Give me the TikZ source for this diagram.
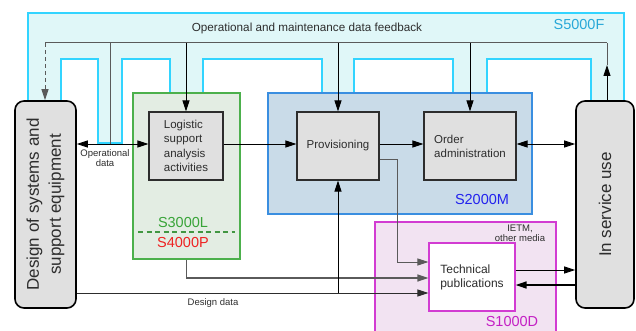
\documentclass[tikz,border=0pt]{standalone}
\usepackage{fontspec}
\setmainfont{Liberation Sans}
\usetikzlibrary{arrows.meta,calc}

\definecolor{cyanfill}{RGB}{224,247,248}
\definecolor{cyanline}{RGB}{50,212,255}
\definecolor{cyantext}{RGB}{40,168,216}
\definecolor{boxgray}{RGB}{224,224,224}
\definecolor{greenfill}{RGB}{227,237,227}
\definecolor{greenline}{RGB}{76,176,76}
\definecolor{greentext}{RGB}{56,164,56}
\definecolor{redtext}{RGB}{238,34,34}
\definecolor{bluefill}{RGB}{201,219,232}
\definecolor{blueline}{RGB}{58,142,224}
\definecolor{bluetext}{RGB}{34,34,238}
\definecolor{magfill}{RGB}{242,227,242}
\definecolor{magline}{RGB}{210,60,210}
\definecolor{magtext}{RGB}{196,32,196}
\definecolor{linegray}{RGB}{90,90,90}
\definecolor{txtgray}{RGB}{45,45,45}

\tikzset{
  tip/.tip={Triangle[length=11pt,width=7pt]},
  cyanframe/.style={fill=cyanfill, draw=cyanline, line width=1.2pt},
  endbox/.style={draw=black, fill=boxgray, line width=1.6pt, rounded corners=9pt,
    minimum width=#1, minimum height=207pt, inner sep=0pt},
  bigtext/.style={font=\fontsize{17}{22}\selectfont, text=txtgray, align=center, rotate=90},
  area/.style={line width=1.3pt, inner sep=0pt},
  actbox/.style={draw=txtgray, fill=boxgray, line width=1.2pt, inner sep=0pt,
    minimum height=68pt, font=\fontsize{11.5}{14.5}\selectfont, text=txtgray, align=left},
  stdlabel/.style={font=\fontsize{14.5}{16}\selectfont},
  small/.style={font=\fontsize{9.5}{10}\selectfont, text=txtgray, align=center},
  fbl/.style={draw=linegray, line width=1pt},
  arr/.style={draw=black, line width=0.9pt, -tip},
  dblarr/.style={draw=black, line width=0.9pt, tip-tip},
}

\begin{document}
\begin{tikzpicture}[x=1pt,y=-1pt]
\useasboundingbox (0,0) rectangle (636,331);

% feedback band with its downward strips
\draw[cyanframe] (28,101) -- (28,13) -- (624,13) -- (624,101) -- (591,101)
  -- (591,59) -- (487,59) -- (487,93) -- (453,93) -- (453,59) -- (354,59)
  -- (354,93) -- (322,93) -- (322,59) -- (203,59) -- (203,93) -- (170,93)
  -- (170,59) -- (122,59) -- (122,143) -- (98,143) -- (98,59) -- (61,59)
  -- (61,101) -- cycle;
\node[font=\fontsize{11.7}{14}\selectfont, text=txtgray] (fbtitle) at (307,28)
  {Operational and maintenance data feedback};
\node[stdlabel, text=cyantext] (s5000f) at (579,25) {S5000F};

% specification areas
\node[area, draw=greenline, fill=greenfill, minimum width=107pt, minimum height=166pt]
  (green) at (186.5,176) {};
\node[area, draw=blueline, fill=bluefill, minimum width=264pt, minimum height=121pt]
  (blue) at (400,153.5) {};
\node[area, draw=magline, fill=magfill, minimum width=181pt, minimum height=124pt]
  (mag) at (465.5,284) {};

\node[stdlabel, text=greentext] (s3000l) at (183,223) {S3000L};
\draw[draw=greenline!85!black, line width=2pt, dash pattern=on 5pt off 3.5pt]
  (138,232) coordinate (dl) -- (235,232) coordinate (dr);
\node[stdlabel, text=redtext] (s4000p) at (183,243) {S4000P};
\node[stdlabel, text=bluetext] (s2000m) at (482,200) {S2000M};
\node[stdlabel, text=magtext] (s1000d) at (512,322) {S1000D};
\node[small] (ietm) at (520,233) {IETM,\\other media};

% end boxes
\node[endbox=61pt] (design) at (45.5,204.5) {};
\node[bigtext] (designlbl) at (design.center) {Design of systems and\\support equipment};
\node[endbox=58pt] (isu) at (605,204.5) {};
\node[bigtext] (isulbl) at (isu.center) {In service use};

% activity boxes
\node[actbox, minimum width=74pt] (logi) at (186,146)
  {Logistic\\support\\analysis\\activities};
\node[actbox, minimum width=82pt] (prov) at (338,146) {Provisioning};
\node[actbox, minimum width=92pt, font=\fontsize{11.5}{14}\selectfont] (order) at (470,146)
  {Order\\administration};
\node[actbox, draw=magline, fill=white, minimum width=86pt, font=\fontsize{12}{14}\selectfont]
  (tech) at (472,277) {Technical\\publications};

% reference points
\coordinate (row) at (0,144);
\coordinate (fbL) at (45,43);
\coordinate (fbR) at (607,43);
\coordinate (fbX) at (110,43);
\coordinate (fbUp) at (607,65);
\coordinate (kink) at (397,0);
\path ([yshift=15pt]tech.west) coordinate (t1)
      ([yshift=-1pt]tech.west) coordinate (t2)
      ([yshift=-16pt]tech.west) coordinate (t3)
      ([yshift=7pt]tech.east) coordinate (te1)
      ([yshift=-8pt]tech.east) coordinate (te2)
      ([yshift=-13pt]prov.east) coordinate (pe);

% feedback loop
\draw[fbl] (fbL) -- (fbR);
\draw[arr] (isu.north -| fbR) -- (fbUp);
\draw[fbl] (fbUp) -- (fbR);
\draw[fbl, dashed, dash pattern=on 4pt off 3pt, -tip] (fbL) -- (fbL |- design.north);
\draw[fbl] (fbX) -- (fbX |- row);
\draw[arr] (fbL -| logi.north) -- (logi.north);
\draw[arr] (fbL -| prov.north) -- (prov.north);
\draw[arr] (fbL -| order.north) -- (order.north);

% main flow
\draw[dblarr] (design.east |- row) -- (logi.west |- row);
\node[small] (opdata) at (105,158) {Operational\\data};
\draw[arr] (logi.east |- row) -- (prov.west |- row);
\draw[arr] (prov.east |- row) -- (order.west |- row);
\draw[dblarr] (order.east |- row) -- (isu.west |- row);

% flows into technical publications
\draw[arr, draw=linegray] (pe) -| (kink |- t1) -- (t1);
\draw[arr, draw=linegray, line width=1.4pt] (green.south) |- (t2);
\draw[arr, draw=txtgray] (design.east |- t3) -- (t3);
\draw[arr] (prov.south |- t3) -- (prov.south);
\node[small] (ddata) at (213,303) {Design data};

% technical publications and in service use
\draw[arr] (te1) -- (isu.west |- te1);
\draw[arr, line width=1.6pt] (isu.west |- te2) -- (te2);
\end{tikzpicture}
\end{document}
